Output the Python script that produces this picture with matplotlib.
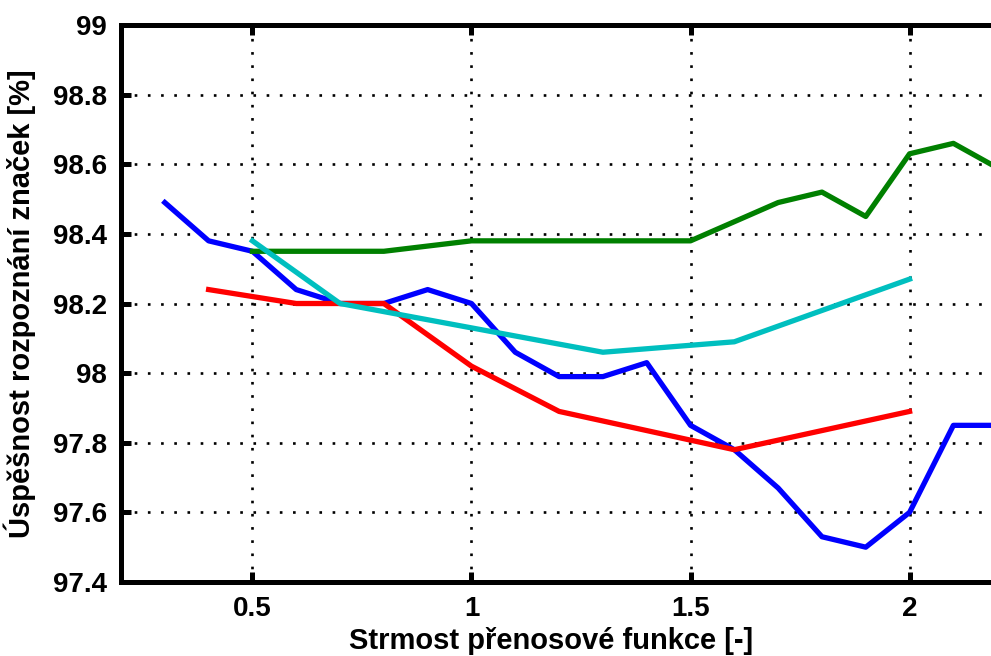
import matplotlib

matplotlib.use("Agg")
import matplotlib.pyplot as plt

plt.rcParams["font.family"] = ["Liberation Sans", "DejaVu Sans"]
plt.rcParams["font.weight"] = "bold"

# blue series, step 0.1
x_blue = [0.3, 0.4, 0.5, 0.6, 0.7, 0.8, 0.9, 1.0, 1.1, 1.2, 1.3,
          1.4, 1.5, 1.6, 1.7, 1.8, 1.9, 2.0, 2.1, 2.2]
y_blue = [98.49, 98.38, 98.35, 98.24, 98.20, 98.20, 98.24, 98.20, 98.06, 97.99, 97.99,
          98.03, 97.85, 97.78, 97.67, 97.53, 97.50, 97.60, 97.85, 97.85]

x_green = [0.5, 0.8, 1.0, 1.5, 1.7, 1.8, 1.9, 2.0, 2.1, 2.2]
y_green = [98.35, 98.35, 98.38, 98.38, 98.49, 98.52, 98.45, 98.63, 98.66, 98.59]

x_red = [0.4, 0.6, 0.8, 1.0, 1.2, 1.6, 2.0]
y_red = [98.24, 98.20, 98.20, 98.02, 97.89, 97.78, 97.89]

x_cyan = [0.5, 0.7, 1.0, 1.3, 1.6, 2.0]
y_cyan = [98.38, 98.20, 98.13, 98.06, 98.09, 98.27]

xticks = [0.5, 1, 1.5, 2]
xtick_labels = ["0.5", "1", "1.5", "2"]
yticks = [97.4, 97.6, 97.8, 98.0, 98.2, 98.4, 98.6, 98.8, 99.0]
ytick_labels = ["97.4", "97.6", "97.8", "98", "98.2", "98.4", "98.6", "98.8", "99"]

fig = plt.figure(figsize=(9.91, 6.56), dpi=100)
# axes run past the right edge of the picture, like the cropped original
ax = fig.add_axes([121 / 991, 1 - 582 / 656, 920 / 991, 557 / 656])

LW = 3.8
ax.plot(x_blue, y_blue, color="#0000ff", lw=LW, zorder=3)
ax.plot(x_green, y_green, color="#008000", lw=LW, zorder=4)
ax.plot(x_red, y_red, color="#ff0000", lw=LW, zorder=5)
ax.plot(x_cyan, y_cyan, color="#00bfbf", lw=LW, zorder=6)

ax.set_xlim(0.2, 2.3)
ax.set_ylim(97.4, 99.0)
ax.set_xticks(xticks, xtick_labels)
ax.set_yticks(yticks, ytick_labels)
ax.grid(True, color="black", lw=1.9, linestyle=(0, (1, 4)))
ax.set_axisbelow(True)

for s in ax.spines.values():
    s.set_linewidth(3.6)
ax.tick_params(direction="in", length=7, width=3.6, labelsize=20,
               top=True, right=True, pad=10)
for lab in ax.get_xticklabels() + ax.get_yticklabels():
    lab.set_fontweight("bold")

ax.set_xlabel("Strmost přenosové funkce [-]", fontsize=21, fontweight="bold")
ax.set_ylabel("Úspěšnost rozpoznání značek [%]", fontsize=21, fontweight="bold")
ax.xaxis.set_label_coords(0.468, -0.081, transform=ax.transAxes)
ax.yaxis.set_label_coords(-0.092, 0.5, transform=ax.transAxes)
ax.xaxis.label.set_va("top")

fig.savefig("out.png", dpi=100)
